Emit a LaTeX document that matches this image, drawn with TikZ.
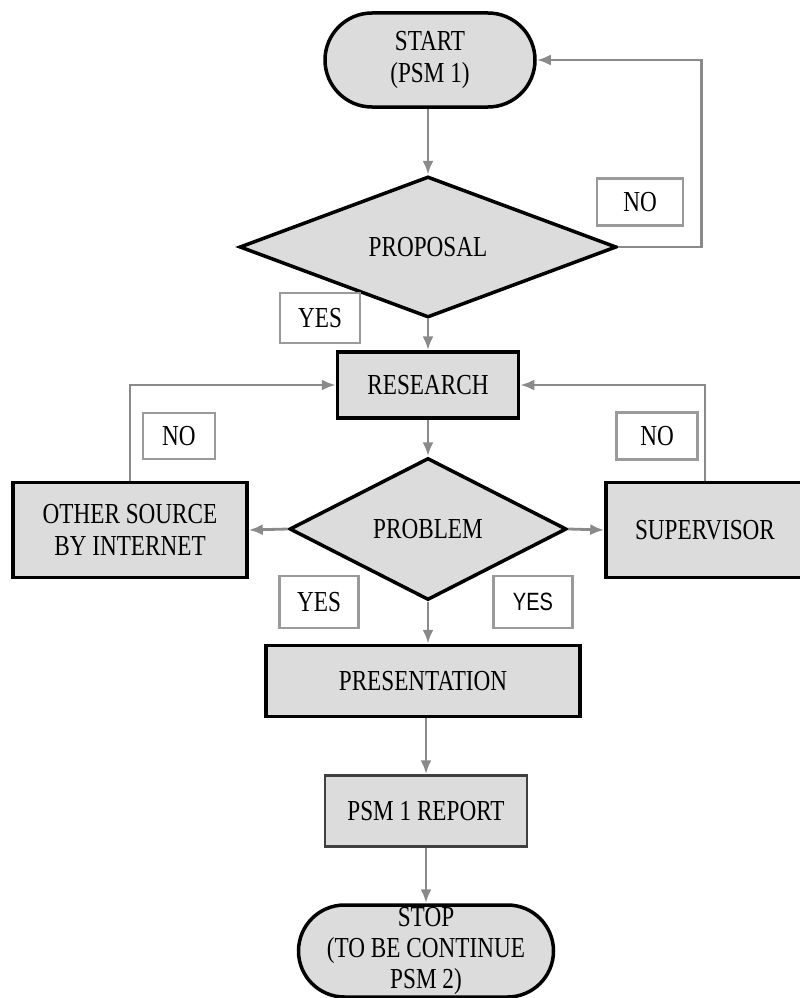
\documentclass[tikz,border=0pt]{standalone}
\usepackage{fontspec}
\setmainfont{Liberation Serif}[FakeStretch=0.8]
\newfontfamily\sansf{Liberation Sans}[FakeStretch=0.8]
\usetikzlibrary{shapes.geometric,arrows.meta}
\definecolor{boxfill}{HTML}{DCDCDC}
\definecolor{arrowgray}{HTML}{8A8A8A}
\definecolor{labelgray}{HTML}{9A9A9A}
\begin{document}
\begin{tikzpicture}[x=1pt,y=-1pt,
  every node/.style={font=\fontsize{29}{32}\selectfont, align=center, inner sep=0pt},
  procbox/.style={draw=black, line width=3.5pt, fill=boxfill, rectangle},
  termbox/.style={draw=black, line width=3.5pt, fill=boxfill, rectangle},
  decbox/.style={draw=black, line width=3.5pt, fill=boxfill, diamond},
  lblbox/.style={draw=labelgray, line width=2.5pt, fill=white, rectangle},
  arr/.style={draw=arrowgray, line width=2.8pt, -{Latex[length=14pt,width=11pt]}}
]
\fill[white] (0,0) rectangle (800,998);
\useasboundingbox (0,0) rectangle (800,998);

\node[termbox, minimum width=210pt, minimum height=94pt, rounded corners=47pt] (start) at (430,60) {START\\(PSM 1)};
\node[decbox, minimum width=377pt, minimum height=141pt, aspect=2.67] (prop) at (428,247) {PROPOSAL};
\node[procbox, minimum width=181pt, minimum height=66pt] (research) at (428,385) {RESEARCH};
\node[decbox, minimum width=277pt, minimum height=142pt, aspect=1.95] (problem) at (428,529) {PROBLEM};
\node[procbox, minimum width=234pt, minimum height=95pt] (other) at (130,530) {OTHER SOURCE\\BY INTERNET};
\node[procbox, minimum width=198pt, minimum height=95pt] (sup) at (705,530) {SUPERVISOR};
\node[procbox, minimum width=314pt, minimum height=71pt] (pres) at (423,681) {PRESENTATION};
\node[procbox, line width=2.5pt, draw=black!75, minimum width=202pt, minimum height=71pt] (report) at (426,811) {PSM 1 REPORT};
\node[termbox, minimum width=255pt, minimum height=92pt, rounded corners=46pt, font=\fontsize{29}{31}\selectfont] (stop) at (426,951) {STOP\\(TO BE CONTINUE\\PSM 2)};

\node[lblbox, minimum width=86pt, minimum height=47pt] (no1) at (640,202) {NO};
\node[lblbox, minimum width=80pt, minimum height=50pt] (yes1) at (320,318) {YES};
\node[lblbox, minimum width=72pt, minimum height=46pt] (no2) at (179,436) {NO};
\node[lblbox, minimum width=81pt, minimum height=47pt] (no3) at (657,436) {NO};
\node[lblbox, minimum width=79pt, minimum height=52pt] (yes2) at (319,602) {YES};
\node[lblbox, minimum width=79pt, minimum height=52pt, font=\sansf\fontsize{25}{28}\selectfont] (yes3) at (533,602) {YES};

\draw[arr] (start.south -| prop.north) -- (prop.north);
\draw[arr] (prop.east) -- ++(83,0) |- (start.east);
\draw[arr] (prop.south) -- (research.north);
\draw[arr] (research.south) -- (problem.north);
\draw[arr] (other.north) |- (research.west);
\draw[arr] (sup.north) |- (research.east);
\draw[arr] (problem.west) -- (other.east);
\draw[arr] (problem.east) -- (sup.west);
\draw[arr] (problem.south) -- (problem.south |- pres.north);
\draw[arr] (pres.south -| report.north) -- (report.north);
\draw[arr] (report.south) -- (report.south |- stop.north);
\end{tikzpicture}
\end{document}
